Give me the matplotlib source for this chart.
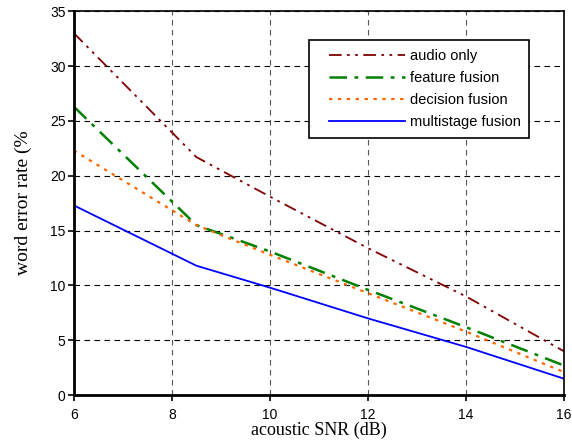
import matplotlib
matplotlib.use("Agg")
import matplotlib.pyplot as plt
from matplotlib.lines import Line2D
from matplotlib.legend_handler import HandlerLine2D

snr = [6, 8.5, 10, 12, 14, 16]
audio_only = [33.0, 21.7, 18.1, 13.4, 9.0, 4.0]
feature_fusion = [26.3, 15.5, 13.1, 9.6, 6.2, 2.7]
decision_fusion = [22.3, 15.5, 12.8, 9.3, 5.8, 2.1]
multistage_fusion = [17.3, 11.8, 9.8, 7.0, 4.4, 1.5]
labels = ["audio only", "feature fusion", "decision fusion", "multistage fusion"]
xticks = [6, 8, 10, 12, 14, 16]
yticks = [0, 5, 10, 15, 20, 25, 30, 35]

fig = plt.figure(figsize=(5.72, 4.46), dpi=100)
ax = fig.add_axes([0.129, 0.114, 0.857, 0.861])

ax.plot(snr, audio_only, color="#800000", lw=1.3, dashes=(7, 3, 1.5, 3, 1.5, 3), label=labels[0])
ax.plot(snr, feature_fusion, color="#008000", lw=1.8, dashes=(7, 3, 1.5, 3), label=labels[1])
ax.plot(snr, decision_fusion, color="#ff6600", lw=1.6, dashes=(1.5, 2.5), label=labels[2])
ax.plot(snr, multistage_fusion, color="#0000ff", lw=1.3, label=labels[3])

ax.set_xlim(6, 16)
ax.set_ylim(0, 35)
ax.set_xticks(xticks)
ax.set_yticks(yticks)
ax.grid(True, color="black", linestyle=(0, (5, 4)), linewidth=0.8)
for gl in ax.get_xgridlines():
    gl.set_color("#555555")

tick_font = {"family": "Liberation Sans", "size": 10}
ax.set_xticklabels([str(t) for t in xticks], fontdict=tick_font)
ax.set_yticklabels([str(t) for t in yticks], fontdict=tick_font)
ax.tick_params(direction="out", length=4, width=1.2)
ax.tick_params(axis="x", pad=5)
ax.tick_params(axis="y", pad=2)

for side in ["left", "bottom"]:
    ax.spines[side].set_linewidth(2.0)
for side in ["top", "right"]:
    ax.spines[side].set_linewidth(1.2)

ax.set_xlabel("acoustic SNR (dB)", family="Liberation Serif", fontsize=13)
ax.set_ylabel("word error rate (%", family="Liberation Serif", fontsize=14)
ax.xaxis.set_label_coords(0.5, -0.068)
ax.yaxis.set_label_coords(-0.086, 0.5)

leg = ax.legend(loc="upper left", bbox_to_anchor=(0.4796, 0.9245),
                prop={"family": "Liberation Sans", "size": 10.5},
                handlelength=6.0, handletextpad=0.3, borderpad=0.6, labelspacing=0.55,
                fancybox=False, edgecolor="black", framealpha=1, borderaxespad=0,
                handler_map={Line2D: HandlerLine2D(xpad=0.75)})
leg.get_frame().set_linewidth(1.2)

fig.savefig("out.png", dpi=100)
